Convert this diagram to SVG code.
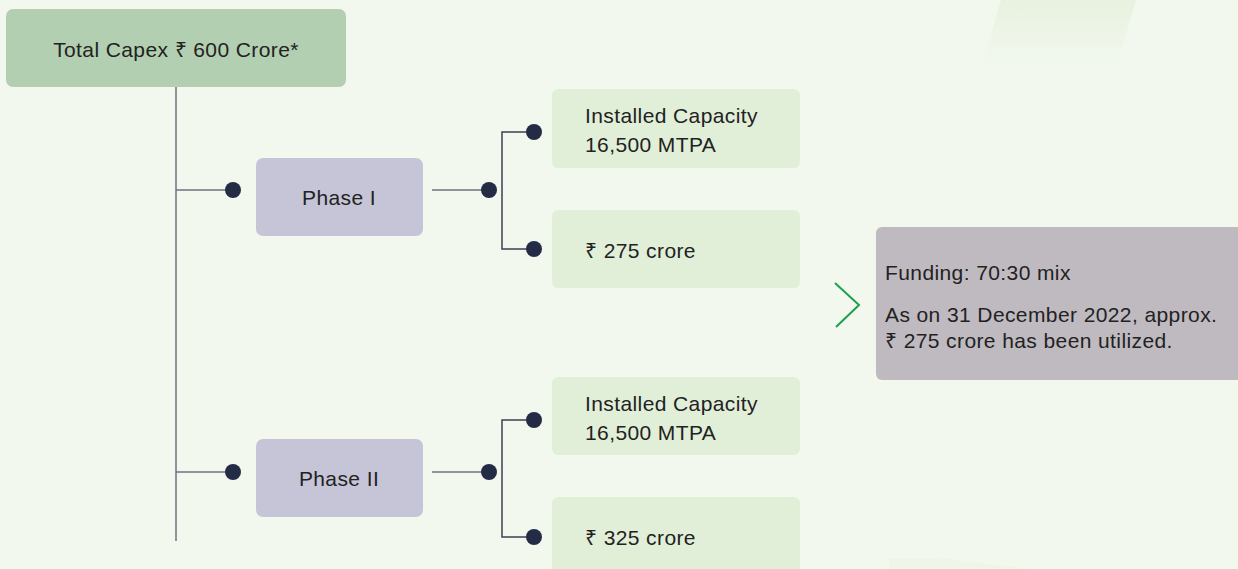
<svg xmlns="http://www.w3.org/2000/svg" width="1238" height="569" viewBox="0 0 1238 569">
<defs>
<linearGradient id="fade" x1="0" y1="0" x2="0" y2="1">
<stop offset="0" stop-color="#e6f0dc"/>
<stop offset="1" stop-color="#f2f8ee"/>
</linearGradient>
<style>
text{font-family:"Liberation Sans",Arial,sans-serif;fill:#222222;font-size:21px;letter-spacing:0.4px}
.c{text-anchor:middle}
.top{fill:#b3cfb1}
.phase{fill:#c6c5d8}
.leaf{fill:#e1efd9}
.note{fill:#bfbac0}
.ln{stroke:#6c7280;stroke-width:1.5;fill:none}
.dk{stroke:#3a4050;stroke-width:1.5;fill:none}
.dot{fill:#232b45}
</style>
</defs>
<rect width="1238" height="569" fill="#f2f8ee"/>
<polygon points="1001,0 1136,0 1116,68 982,66" fill="url(#fade)" opacity="0.8"/>
<polygon points="889,569 889,559 940,558 1030,569" fill="#eef4e8" opacity="0.6"/>

<g id="connectors">
<line class="ln" x1="176" y1="87" x2="176" y2="541"/>
<line class="ln" x1="176" y1="190" x2="233" y2="190"/>
<line class="ln" x1="432" y1="190" x2="489" y2="190"/>
<polyline class="dk" points="534,132 502,132 502,249 534,249"/>
<line class="ln" x1="176" y1="472" x2="233" y2="472"/>
<line class="ln" x1="432" y1="472" x2="489" y2="472"/>
<polyline class="dk" points="534,420 502,420 502,537 534,537"/>
<circle class="dot" cx="233" cy="190" r="8"/>
<circle class="dot" cx="489" cy="190" r="8"/>
<circle class="dot" cx="534" cy="132" r="8"/>
<circle class="dot" cx="534" cy="249" r="8"/>
<circle class="dot" cx="233" cy="472" r="8"/>
<circle class="dot" cx="489" cy="472" r="8"/>
<circle class="dot" cx="534" cy="420" r="8"/>
<circle class="dot" cx="534" cy="537" r="8"/>
<polyline points="835,283 859,305 836,327" fill="none" stroke="#1ea04a" stroke-width="2"/>
</g>

<g id="total">
<rect class="top" x="6" y="9" width="340" height="78" rx="7"/>
<text class="c" x="176" y="57">Total Capex ₹ 600 Crore*</text>
</g>

<g id="phase1">
<rect class="phase" x="256" y="158" width="167" height="78" rx="7"/>
<text class="c" x="339" y="205">Phase I</text>
</g>

<g id="cap1">
<rect class="leaf" x="552" y="89" width="248" height="79" rx="6"/>
<text x="585" y="123">Installed Capacity</text>
<text x="585" y="152">16,500 MTPA</text>
</g>

<g id="cost1">
<rect class="leaf" x="552" y="210" width="248" height="78" rx="6"/>
<text x="585" y="258">₹ 275 crore</text>
</g>

<g id="phase2">
<rect class="phase" x="256" y="439" width="167" height="78" rx="7"/>
<text class="c" x="339" y="486">Phase II</text>
</g>

<g id="cap2">
<rect class="leaf" x="552" y="377" width="248" height="78" rx="6"/>
<text x="585" y="411">Installed Capacity</text>
<text x="585" y="440">16,500 MTPA</text>
</g>

<g id="cost2">
<rect class="leaf" x="552" y="497" width="248" height="90" rx="6"/>
<text x="585" y="545">₹ 325 crore</text>
</g>

<g id="funding">
<rect class="note" x="876" y="227" width="380" height="153" rx="6"/>
<text x="885" y="280">Funding: 70:30 mix</text>
<text x="885" y="322">As on 31 December 2022, approx.</text>
<text x="885" y="348">₹ 275 crore has been utilized.</text>
</g>
</svg>
